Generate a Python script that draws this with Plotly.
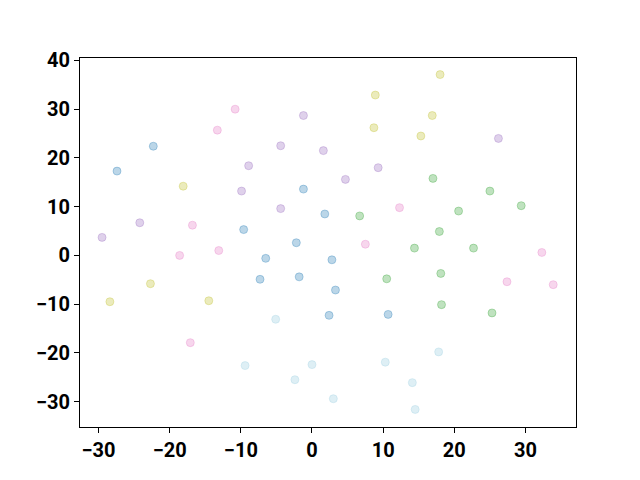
import plotly.graph_objects as go

blue_x = [-27.4, -22.3, -1.2, 1.8, -9.6, -2.2, -6.5, -7.3, -1.8, 2.8, 3.3, 2.4, 10.7]
blue_y = [17.3, 22.4, 13.6, 8.5, 5.3, 2.6, -0.6, -4.9, -4.4, -0.9, -7.1, -12.3, -12.1]

cyan_x = [-5.1, -9.4, -2.4, 0.0, 3.0, 10.3, 14.1, 14.5, 17.8]
cyan_y = [-13.1, -22.6, -25.5, -22.4, -29.4, -21.9, -26.1, -31.6, -19.8]

green_x = [17.0, 25.0, 29.4, 20.6, 6.7, 17.9, 14.4, 22.7, 10.5, 18.1, 18.2, 25.3]
green_y = [15.8, 13.2, 10.2, 9.1, 8.1, 4.9, 1.5, 1.5, -4.8, -3.7, -10.1, -11.8]

olive_x = [18.0, 8.9, 16.9, 8.7, 15.3, -18.1, -28.4, -22.7, -14.5]
olive_y = [37.1, 32.9, 28.7, 26.2, 24.5, 14.2, -9.5, -5.8, -9.3]

purple_x = [-1.2, -4.4, 1.6, -8.9, -9.9, -4.4, -24.2, -29.5, 9.3, 4.7, 26.2]
purple_y = [28.7, 22.5, 21.5, 18.4, 13.2, 9.6, 6.7, 3.7, 18.0, 15.6, 24.0]

pink_x = [-10.8, -13.3, -16.8, -18.6, -13.1, -17.1, 12.3, 7.5, 32.3, 27.4, 33.9]
pink_y = [30.0, 25.7, 6.2, 0.0, 1.0, -17.9, 9.8, 2.3, 0.6, -5.4, -6.0]

groups = [
    (blue_x, blue_y, (31, 119, 180), 0.3),
    (green_x, green_y, (44, 160, 44), 0.3),
    (purple_x, purple_y, (148, 103, 189), 0.3),
    (pink_x, pink_y, (227, 119, 194), 0.3),
    (olive_x, olive_y, (188, 189, 34), 0.3),
    (cyan_x, cyan_y, (173, 216, 230), 0.4),
]

fig = go.Figure()
for xs, ys, (r, g, b), a in groups:
    fig.add_trace(go.Scatter(
        x=xs, y=ys, mode="markers",
        marker=dict(size=8, color=f"rgba({r},{g},{b},{a})",
                    line=dict(width=1, color=f"rgba({r},{g},{b},{a})")),
        showlegend=False))

axis = dict(showgrid=False, zeroline=False, showline=True, mirror=True,
            linecolor="black", linewidth=1, ticks="outside", ticklen=5,
            tickwidth=1, tickcolor="black", automargin=False,
            tickfont=dict(family="Roboto", size=20, color="black", weight="bold"))

# the page body adds an 8px offset, so the margins are shifted to compensate
fig.update_layout(
    width=640, height=480,
    paper_bgcolor="white", plot_bgcolor="white",
    margin=dict(l=72, r=72, t=50, b=61),
    xaxis=dict(axis, range=[-32.6, 37.1], tickvals=[-30, -20, -10, 0, 10, 20, 30]),
    yaxis=dict(axis, range=[-35.2, 40.5], tickvals=[-30, -20, -10, 0, 10, 20, 30, 40]),
)

fig.write_html("out.html")
